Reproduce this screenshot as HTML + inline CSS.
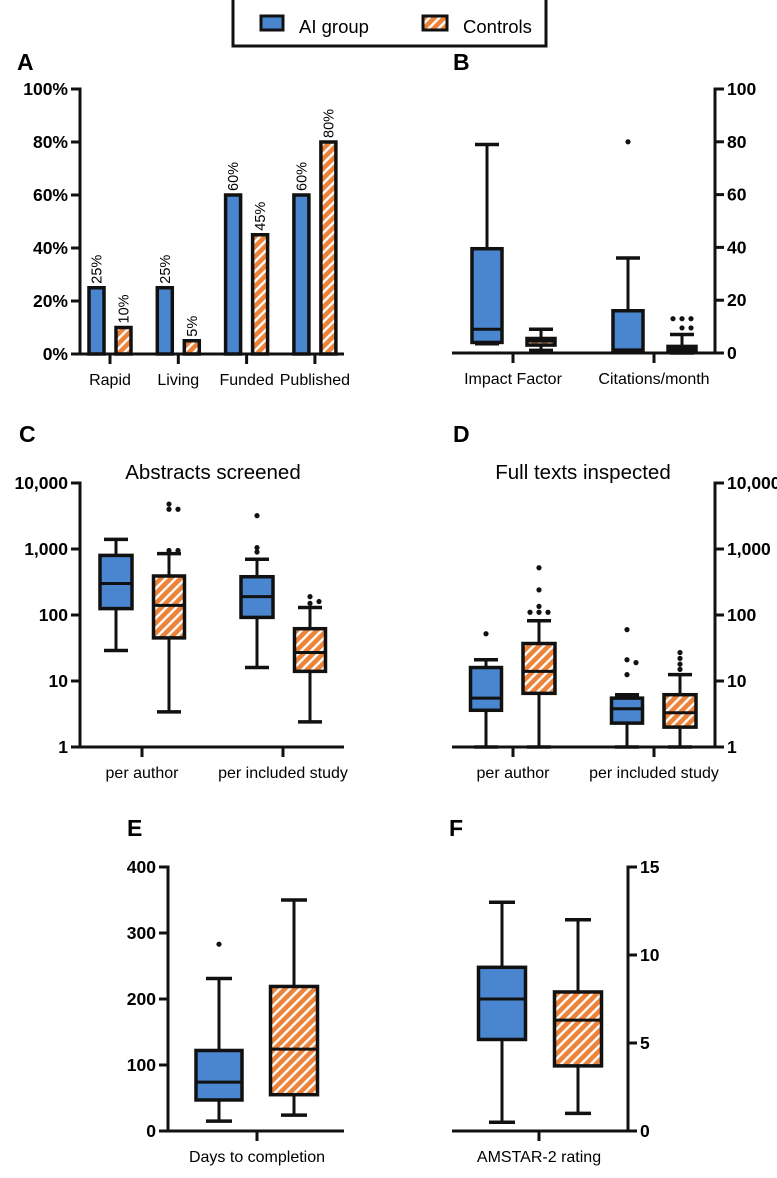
<!DOCTYPE html>
<html><head><meta charset="utf-8">
<style>
html,body{margin:0;padding:0;background:#fff;}
svg{display:block;font-family:"Liberation Sans",Arial,sans-serif;}
.tl{font-weight:bold;font-size:17.5px;}
.cl{font-size:16px;}
.pl{font-weight:bold;font-size:23px;}
.tt{font-size:20.5px;}
</style></head>
<body>
<svg id="fig" width="777" height="1178" viewBox="0 0 777 1178" xmlns="http://www.w3.org/2000/svg">
<defs>
<pattern id="hatch" patternUnits="userSpaceOnUse" width="7" height="7" patternTransform="rotate(45)">
<rect width="7" height="7" fill="#EC8339"/>
<rect x="0" y="0" width="2.4" height="7" fill="#fff"/>
</pattern>
</defs>
<g>
<rect x="233" y="-3" width="313" height="49" fill="#fff" stroke="#111" stroke-width="3"/>
<rect x="261" y="16" width="22" height="14" fill="#4A86CF" stroke="#111" stroke-width="3"/>
<text x="299" y="33" font-size="18.5">AI group</text>
<rect x="423" y="16" width="24" height="14" fill="url(#hatch)" stroke="#111" stroke-width="3"/>
<text x="463" y="33" font-size="18.5">Controls</text>
</g>
<text class="pl" x="17" y="70">A</text>
<text class="pl" x="453" y="70">B</text>
<text class="pl" x="19" y="442">C</text>
<text class="pl" x="453" y="442">D</text>
<text class="pl" x="127" y="836">E</text>
<text class="pl" x="449" y="836">F</text>
<text class="tt" x="213" y="479" text-anchor="middle">Abstracts screened</text>
<text class="tt" x="583" y="479" text-anchor="middle">Full texts inspected</text>
<g id="plots"></g>
</svg>
<script>
// Panel A data
const aCategories = ["Rapid","Living","Funded","Published"];
const aAI = [25,25,60,60];
const aControls = [10,5,45,80];
const aTicks = [0,20,40,60,80,100];
// Panel B data: [min,q1,median,q3,max]
const bCategories = ["Impact Factor","Citations/month"];
const bAI = [[3.5,4,9,39.5,79],[1,1,1.2,16,36]];
const bControls = [[1,3,4.5,5.5,9],[0,0.5,1.5,2.5,7]];
const bAIOut = [[],[80]];
const bCtrlOut = [[],[13,13,13,9.5,9.5]];
const bTicks = [0,20,40,60,80,100];
// Panel C data
const cCategories = ["per author","per included study"];
const cAI = [[29,125,300,800,1400],[16,92,190,380,700]];
const cControls = [[3.4,45,140,390,850],[2.4,14,27,62,130]];
const cAIOut = [[],[900,1050,3200]];
const cCtrlOut = [[950,950,4000,4000,4800],[150,160,190]];
const cTicks = [1,10,100,1000,10000];
const cTickLabels = ["1","10","100","1,000","10,000"];
// Panel D data
const dCategories = ["per author","per included study"];
const dAI = [[1,3.6,5.5,16,21],[1,2.3,3.8,5.5,6.2]];
const dControls = [[1,6.5,14,37,82],[1,2,3.3,6.2,12.5]];
const dAIOut = [[52],[12.5,21,19,60]];
const dCtrlOut = [[110,110,110,135,240,520],[15,18,22,27]];
// Panel E data
const eCategories = ["Days to completion"];
const eAI = [[15,47,74,122,231]];
const eControls = [[24,55,124,219,350]];
const eAIOut = [[283]];
const eCtrlOut = [[]];
const eTicks = [0,100,200,300,400];
// Panel F data
const fCategories = ["AMSTAR-2 rating"];
const fAI = [[0.5,5.2,7.5,9.3,13]];
const fControls = [[1,3.7,6.3,7.9,12]];
const fTicks = [0,5,10,15];

const NS="http://www.w3.org/2000/svg";
const root=document.getElementById('plots');
function mk(tag,attrs,parent){const e=document.createElementNS(NS,tag);for(const k in attrs)e.setAttribute(k,attrs[k]);(parent||root).appendChild(e);return e;}
function line(x1,y1,x2,y2,w,p){return mk('line',{x1,y1,x2,y2,stroke:'#111','stroke-width':w||3},p);}

function axisLeft(x,ys,labels,left,g){
  line(x,ys[ys.length-1]-1.5,x,ys[0]+1.5,3,g);
  ys.forEach((y,i)=>{
    const t=line(left?x-9:x,y,left?x:x+9,y,3,g);
    
    
    const tx=mk('text',{x:left?x-12:x+12,y:y+6,'text-anchor':left?'end':'start',class:'tl'},g);
    tx.textContent=labels[i];
    
    
  });
}
function xAxis(x1,x2,y,cats,catX,g){
  line(x1,y,x2,y,3,g);
  cats.forEach((c,i)=>{
    const t=line(catX(i),y,catX(i),y+10,3,g);
    
    
    const tx=mk('text',{x:catX(i),y:y+31,'text-anchor':'middle',class:'cl'},g);
    tx.textContent=c;
    
    
  });
}
function box(cx,w,cap,s,yf,fill,outs,g,name){
  const bg=mk('g',{},g);
  
  
  const [mn,q1,md,q3,mx]=s.map(yf);
  line(cx,mx,cx,q3,3,bg);line(cx,q1,cx,mn,3,bg);
  line(cx-cap,mx,cx+cap,mx,3.5,bg);line(cx-cap,mn,cx+cap,mn,3.5,bg);
  mk('rect',{x:cx-w/2,y:q3,width:w,height:Math.max(q1-q3,0.5),fill:fill,stroke:'#111','stroke-width':3.5},bg);
  line(cx-w/2,md,cx+w/2,md,3,bg);
  const placed=[];
  (outs||[]).forEach(v=>{
    const y=yf(v);
    const same=placed.filter(p=>Math.abs(p-y)<4).length;
    placed.push(y);
    const off=same===0?0:(same%2?1:-1)*Math.ceil(same/2)*9;
    const c=mk('circle',{cx:cx+off,cy:y,r:2.6,fill:'#111'},bg);
    
    
  });
}
const BLUE='#4A86CF', HATCH='url(#hatch)';

// Panel A
(function(){
  const g=mk('g',{});
  
  
  const y=v=>354-v*2.65;
  const catX=i=>110+i*68.3;
  aCategories.forEach((c,i)=>{
    [[aAI[i],-13.5,BLUE,'ai'],[aControls[i],13.5,HATCH,'controls']].forEach(([v,o,f,n])=>{
      const r=mk('rect',{x:catX(i)+o-7.5,y:y(v),width:15,height:354-y(v),fill:f,stroke:'#111','stroke-width':3.5},g);
      
      
      const t=mk('text',{x:0,y:0,'font-size':14.5,transform:`translate(${catX(i)+o+5},${y(v)-4}) rotate(-90)`},g);
      t.textContent=v+'%';
      
      
    });
  });
  xAxis(71,344,354,aCategories,catX,g);
  axisLeft(80,aTicks.map(y),aTicks.map(v=>v+'%'),true,g);
})();
// Panel B
(function(){
  const g=mk('g',{});
  
  
  const y=v=>353-v*2.64;
  const catX=i=>513+i*141;
  bCategories.forEach((c,i)=>{
    box(catX(i)-26,30,12,bAI[i],y,BLUE,bAIOut[i],g,'box-ai-'+i);
    box(catX(i)+28,28,12,bControls[i],y,HATCH,bCtrlOut[i],g,'box-controls-'+i);
  });
  xAxis(452,715,353,bCategories,catX,g);
  axisLeft(715,bTicks.map(y),bTicks.map(String),false,g);
})();
// Panel C
(function(){
  const g=mk('g',{});
  
  
  const y=v=>747-66*Math.log10(v);
  const catX=i=>142+i*141;
  cCategories.forEach((c,i)=>{
    box(catX(i)-26,32,12,cAI[i],y,BLUE,cAIOut[i],g,'box-ai-'+i);
    box(catX(i)+27,31,12,cControls[i],y,HATCH,cCtrlOut[i],g,'box-controls-'+i);
  });
  xAxis(71,344,747,cCategories,catX,g);
  axisLeft(80,cTicks.map(y),cTickLabels,true,g);
})();
// Panel D
(function(){
  const g=mk('g',{});
  
  
  const y=v=>747-66*Math.log10(v);
  const catX=i=>513+i*141;
  dCategories.forEach((c,i)=>{
    box(catX(i)-27,31,12,dAI[i],y,BLUE,dAIOut[i],g,'box-ai-'+i);
    box(catX(i)+26,32,12,dControls[i],y,HATCH,dCtrlOut[i],g,'box-controls-'+i);
  });
  xAxis(452,715,747,dCategories,catX,g);
  axisLeft(715,cTicks.map(y),cTickLabels,false,g);
})();
// Panel E
(function(){
  const g=mk('g',{});
  
  
  const y=v=>1131-v*0.66;
  const catX=i=>257;
  box(219,46,13,eAI[0],y,BLUE,eAIOut[0],g,'box-ai');
  box(294,47,13,eControls[0],y,HATCH,eCtrlOut[0],g,'box-controls');
  xAxis(168,344,1131,eCategories,catX,g);
  axisLeft(168,eTicks.map(y),eTicks.map(String),true,g);
})();
// Panel F
(function(){
  const g=mk('g',{});
  
  
  const y=v=>1131-v*17.6;
  const catX=i=>539;
  box(502,47,13,fAI[0],y,BLUE,[],g,'box-ai');
  box(578,47,13,fControls[0],y,HATCH,[],g,'box-controls');
  xAxis(452,628,1131,fCategories,catX,g);
  axisLeft(628,fTicks.map(y),fTicks.map(String),false,g);
})();
</script>
</body></html>
